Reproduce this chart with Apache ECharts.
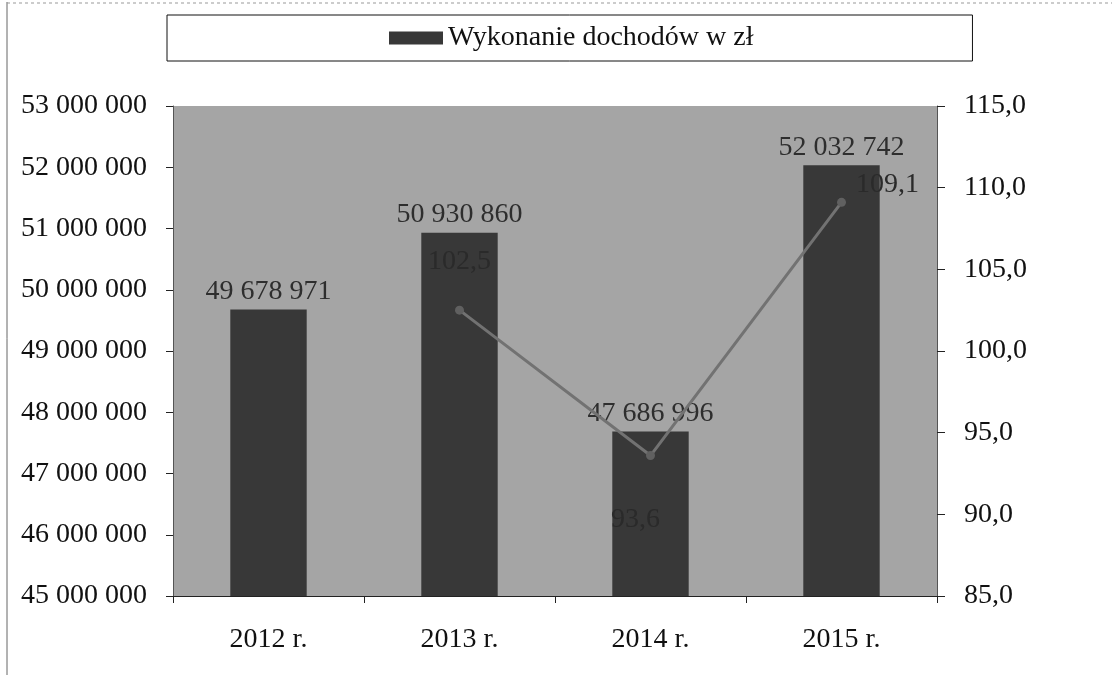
<!DOCTYPE html>
<html>
<head>
<meta charset="utf-8">
<title>Wykonanie dochodów</title>
<script src="https://cdn.jsdelivr.net/npm/echarts@6/dist/echarts.min.js"></script>
<style>
  html, body { margin: 0; padding: 0; background: #fff; }
  #chart { width: 1112px; height: 675px; }
</style>
</head>
<body>
<div id="chart"></div>
<script>
// dane z wykresu
const years = ["2012 r.", "2013 r.", "2014 r.", "2015 r."];
const incomes = [49678971, 50930860, 47686996, 52032742];
const dynamics = [null, 102.5, 93.6, 109.1];
const leftAxis = { min: 45000000, max: 53000000, interval: 1000000 };
const rightAxis = { min: 85, max: 115, interval: 5 };

const FONT = "Liberation Serif";

function spaced(n) {
  return String(Math.round(n)).replace(/\B(?=(\d{3})+(?!\d))/g, " ");
}
function comma1(v) {
  return Number(v).toFixed(1).replace(".", ",");
}

const chart = echarts.init(document.getElementById("chart"));

// pozycje etykiet linii jak w oryginale (Excel)
const lineLabels = [
  null,
  { position: "top", distance: 30 },
  { position: "bottom", distance: 46, offset: [-15, 0] },
  { position: "right", distance: 10, offset: [0, -18] },
];

const option = {
  backgroundColor: "#ffffff",
  animation: false,
  textStyle: { fontFamily: FONT },
  legend: {
    data: ["Wykonanie dochodów w zł"],
    left: 167,
    top: 15,
    padding: [9, 219, 9, 222],
    borderColor: "#111",
    borderWidth: 1,
    itemWidth: 54,
    itemHeight: 13,
    icon: "rect",
    textStyle: { fontFamily: FONT, fontSize: 28, color: "#111" },
  },
  grid: {
    left: 173,
    right: 175,
    top: 106,
    bottom: 79,
    show: true,
    backgroundColor: "#a5a5a5",
    borderWidth: 0,
  },
  xAxis: {
    type: "category",
    data: years,
    axisLine: { lineStyle: { color: "#222", width: 1 } },
    axisTick: { show: true, length: 7, lineStyle: { color: "#222" } },
    axisLabel: { fontFamily: FONT, fontSize: 28, color: "#111", margin: 30 },
  },
  yAxis: [
    {
      type: "value",
      min: leftAxis.min,
      max: leftAxis.max,
      interval: leftAxis.interval,
      splitLine: { show: false },
      axisLine: { show: true, lineStyle: { color: "#555" } },
      axisTick: { show: true, length: 7, lineStyle: { color: "#222" } },
      axisLabel: {
        fontFamily: FONT,
        fontSize: 28,
        color: "#111",
        margin: 26,
        formatter: spaced,
      },
    },
    {
      type: "value",
      position: "right",
      min: rightAxis.min,
      max: rightAxis.max,
      interval: rightAxis.interval,
      splitLine: { show: false },
      axisLine: { show: true, lineStyle: { color: "#555" } },
      axisTick: { show: true, length: 8, lineStyle: { color: "#222" } },
      axisLabel: {
        fontFamily: FONT,
        fontSize: 28,
        color: "#111",
        margin: 27,
        formatter: comma1,
      },
    },
  ],
  series: [
    {
      name: "Wykonanie dochodów w zł",
      type: "bar",
      yAxisIndex: 0,
      data: incomes,
      barWidth: "40%",
      itemStyle: { color: "#383838" },
      label: {
        show: true,
        position: "top",
        distance: 4,
        fontFamily: FONT,
        fontSize: 28,
        color: "#2e2e2e",
        formatter: (p) => spaced(p.value),
      },
      z: 2,
    },
    {
      name: "Dynamika",
      type: "line",
      yAxisIndex: 1,
      data: dynamics.map((v, i) =>
        v === null ? null : { value: v, label: lineLabels[i] }
      ),
      connectNulls: false,
      symbol: "circle",
      symbolSize: 9,
      lineStyle: { color: "#727272", width: 3 },
      itemStyle: { color: "#606060" },
      label: {
        show: true,
        fontFamily: FONT,
        fontSize: 28,
        color: "#2a2a2a",
        formatter: (p) => comma1(p.value),
      },
      z: 3,
    },
  ],
  graphic: [
    {
      type: "line",
      shape: { x1: 7, y1: 2, x2: 7, y2: 675 },
      style: { stroke: "#666", lineWidth: 1 },
      silent: true,
    },
    {
      type: "line",
      shape: { x1: 7, y1: 3, x2: 1112, y2: 3 },
      style: { stroke: "#9a9a9a", lineWidth: 1, lineDash: [3, 3] },
      silent: true,
    },
  ],
};

chart.setOption(option);
</script>
</body>
</html>
